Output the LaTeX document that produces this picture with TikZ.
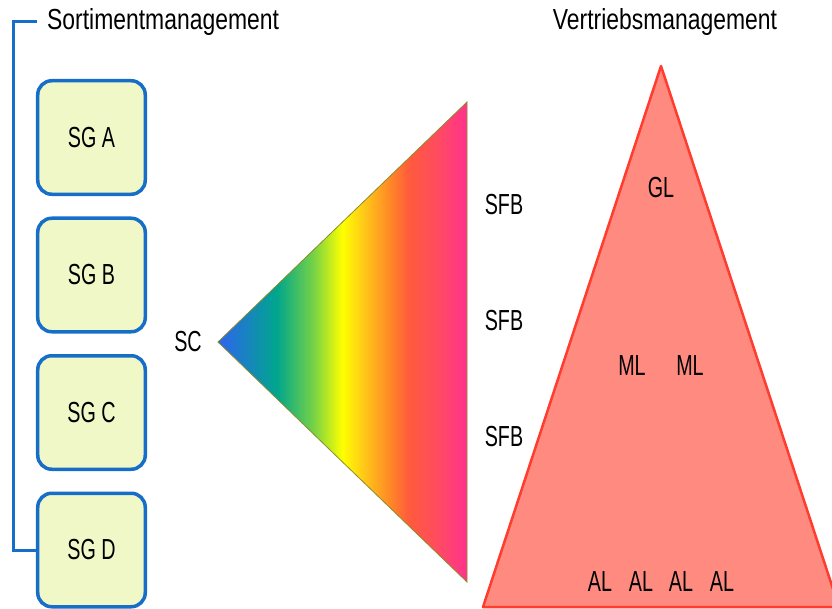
\documentclass[tikz,border=0pt]{standalone}
\usepackage{fontspec}
\setmainfont{Liberation Sans}
\newfontfamily\titlefont[FakeStretch=0.79]{Liberation Sans}
\newfontfamily\labelfont[FakeStretch=0.68]{Liberation Sans}
\definecolor{boxblue}{RGB}{22,110,200}
\definecolor{boxfill}{RGB}{240,248,200}
\definecolor{redfill}{RGB}{255,138,128}
\definecolor{redline}{RGB}{255,60,45}
\definecolor{olivec}{RGB}{140,140,40}
\pgfdeclarehorizontalshading{rainbow}{100bp}{rgb(0bp)=(0.18,0.39,0.94); rgb(25bp)=(0.18,0.39,0.94); rgb(36.8bp)=(0,0.65,0.55); rgb(44bp)=(0.45,0.82,0.28); rgb(50bp)=(1,1,0); rgb(53.5bp)=(1,0.82,0.08); rgb(60bp)=(1,0.51,0.16); rgb(63.5bp)=(1,0.35,0.24); rgb(68bp)=(1,0.31,0.35); rgb(75bp)=(1,0.2,0.55); rgb(100bp)=(1,0.2,0.55)}
\begin{document}
\begin{tikzpicture}[x=1bp,y=-1bp,
  sgbox/.style={draw=boxblue, fill=boxfill, line width=3.5bp, rounded corners=14bp,
    minimum width=107.5bp, minimum height=113.5bp, inner sep=0pt, font=\labelfont\fontsize{29bp}{32bp}\selectfont},
  lbl/.style={inner sep=0pt, font=\labelfont\fontsize{29bp}{32bp}\selectfont},
  ttl/.style={inner sep=0pt, font=\titlefont\fontsize{29bp}{32bp}\selectfont},
  bracket/.style={draw=boxblue, line width=3bp}]
\useasboundingbox (0,0) rectangle (832,609);
% boxes
\node[sgbox] (A) at (91.5,137.5) {SG A};
\node[sgbox] (B) at (91.5,275) {SG B};
\node[sgbox] (C) at (91.5,412.5) {SG C};
\node[sgbox] (D) at (91.5,550) {SG D};
% title left
\node[ttl, anchor=west] (T1) at (47,22) {Sortimentmanagement};
\coordinate (btop) at (37,22);
\draw[bracket] (btop) -- (13,22) -- (13,550) -- (D.west);
% rainbow triangle
\coordinate (tip) at (218,342);
\coordinate (rt) at (467,102);
\coordinate (rb) at (467,582);
\shadedraw[shading=rainbow, draw=olivec, line width=0.8bp] (tip) -- (rt) -- (rb) -- cycle;
\node[lbl] (SC) at (188,342) {SC};
\node[lbl] (F1) at (504,205) {SFB};
\node[lbl] (F2) at (504,321) {SFB};
\node[lbl] (F3) at (504,437) {SFB};
% red triangle
\coordinate (apex) at (661,66);
\coordinate (bl) at (483,607);
\coordinate (br) at (839,607);
\filldraw[fill=redfill, draw=redline, line width=2.5bp, line join=round] (apex) -- (bl) -- (br) -- cycle;
\node[ttl] (T2) at (665,22) {Vertriebsmanagement};
\node[lbl] (GL) at (661,188) {GL};
\node[lbl] (ML1) at (632,366) {ML};
\node[lbl] (ML2) at (690,366) {ML};
\node[lbl] (AL1) at (600,582) {AL};
\node[lbl] (AL2) at (641,582) {AL};
\node[lbl] (AL3) at (681,582) {AL};
\node[lbl] (AL4) at (722,582) {AL};
\end{tikzpicture}
\end{document}
